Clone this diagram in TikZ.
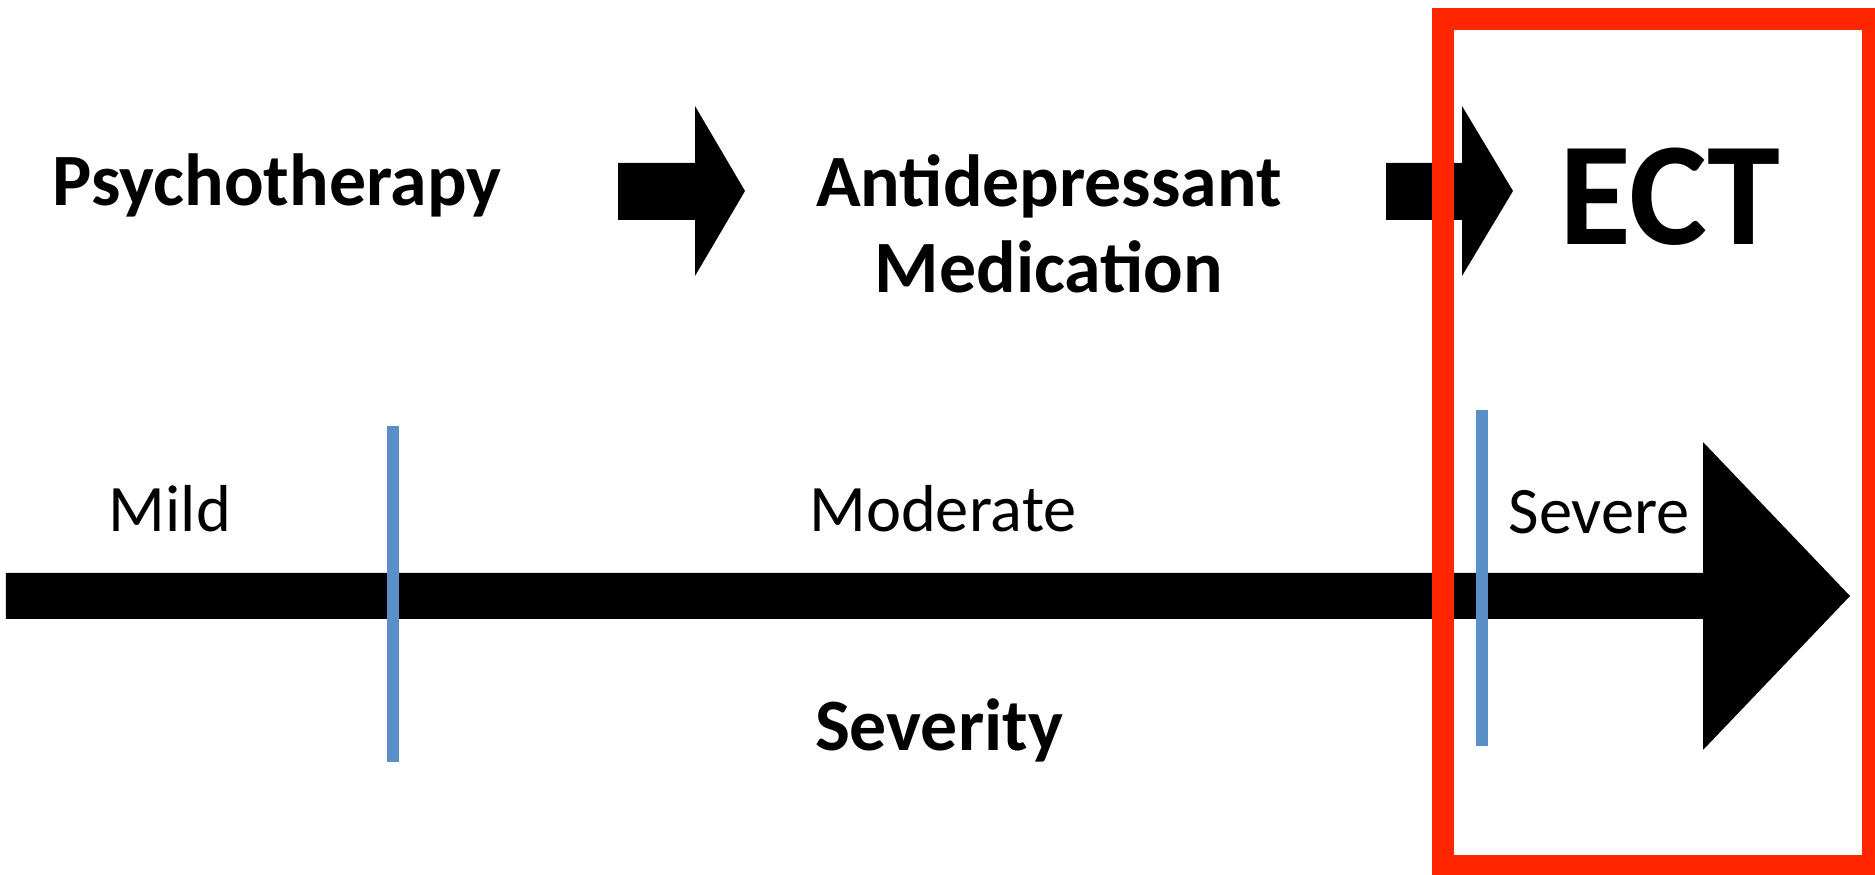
\documentclass[tikz,border=0pt]{standalone}
\usepackage{fontspec}
\setmainfont{Carlito}
\definecolor{ectred}{RGB}{255,38,0}
\definecolor{tickblue}{RGB}{91,143,199}

\begin{document}
\begin{tikzpicture}[
    heading/.style={font=\bfseries\fontsize{21}{24.75}\selectfont, inner sep=0pt, anchor=base},
    level/.style={font=\fontsize{18.9}{22}\selectfont, inner sep=0pt, anchor=base},
    divider/.style={line width=0.12cm, color=tickblue}]
    \useasboundingbox (0,0) rectangle (18.75,8.74);
    % treatments
    \node [heading] (psycho) at (2.77,6.68) {Psychotherapy};
    \node [heading, align=center] (drug) at (10.49,5.81) {Antidepressant\\Medication};
    \node [heading, font=\bfseries\fontsize{41.9}{44}\selectfont] (ect) at (16.70,6.29) {ECT};
    \fill (6.18,6.54) -- (6.95,6.54) -- (6.95,5.98) -- (7.45,6.83) -- (6.95,7.68) -- (6.95,7.11) -- (6.18,7.11) -- cycle;
    \fill (13.86,6.54) -- (14.62,6.54) -- (14.62,5.98) -- (15.13,6.83) -- (14.62,7.68) -- (14.62,7.11) -- (13.86,7.11) -- cycle;
    % severity scale
    \fill (0.06,2.55) -- (17.03,2.55) -- (17.03,1.24) -- (18.50,2.78) -- (17.03,4.32) -- (17.03,3.01) -- (0.06,3.01) -- cycle;
    \draw [divider] (3.93,4.48) -- (3.93,1.12);
    \draw [divider] (14.82,4.64) -- (14.82,1.28);
    \node [level] (mild) at (1.70,3.42) {Mild};
    \node [level] (moderate) at (9.43,3.42) {Moderate};
    \node [level] (severe) at (15.99,3.40) {Severe};
    \node [heading] (severity) at (9.39,1.24) {Severity};
    % highlight
    \draw [line width=0.22cm, color=ectred] (14.43,0.08) rectangle (18.73,8.545);
\end{tikzpicture}
\end{document}
